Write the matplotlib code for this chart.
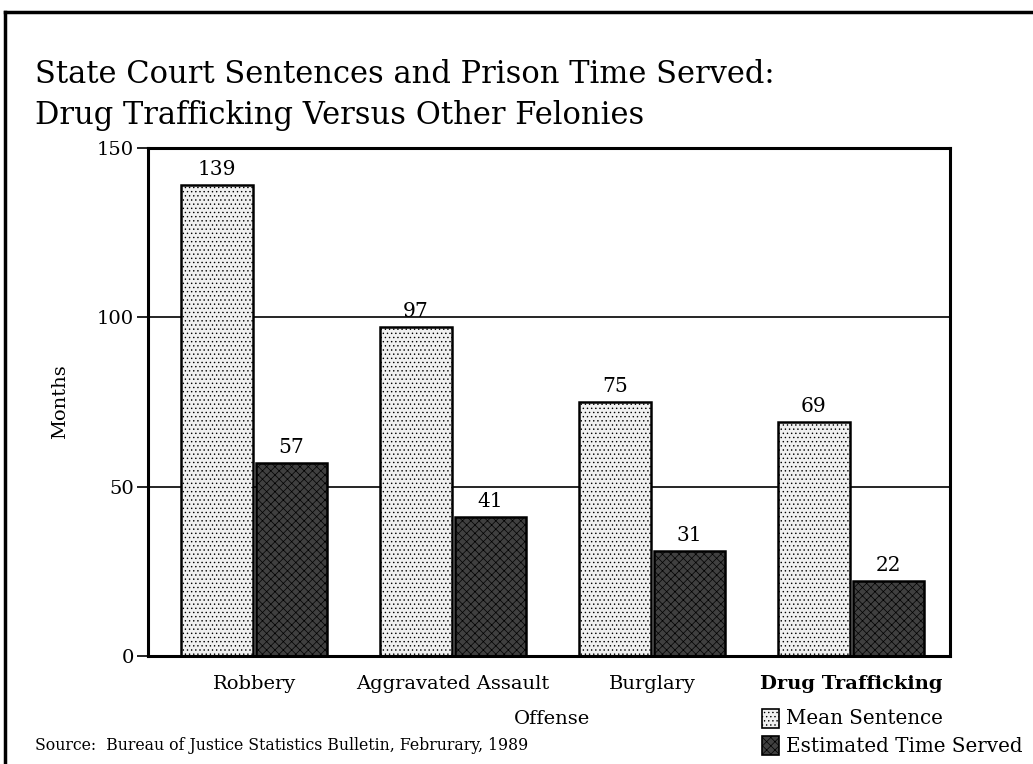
import numpy as np
import matplotlib.pyplot as plt
from matplotlib.patches import Rectangle
from matplotlib.lines import Line2D

# Data (months)
offenses = ["Robbery", "Aggravated Assault", "Burglary", "Drug Trafficking"]
mean_sentence = [139, 97, 75, 69]
time_served = [57, 41, 31, 22]
yticks = [0, 50, 100, 150]

plt.rcParams['font.family'] = ['DejaVu Serif']
plt.rcParams['hatch.linewidth'] = 0.5

fig = plt.figure(figsize=(10.33, 7.64), dpi=100)
W, H = 1033, 764
ax = fig.add_axes([148 / W, 1 - 656 / H, (950 - 148) / W, (656 - 148) / H])

x = np.arange(len(offenses))
w = 0.36
off = 0.1875
b1 = ax.bar(x - off, mean_sentence, w, facecolor="#f0f0f0", edgecolor="black",
            hatch="....", linewidth=1.8)
b2 = ax.bar(x + off, time_served, w, facecolor="#404040", edgecolor="black",
            hatch="xxxx", linewidth=1.8)

for xi, v in zip(x - off, mean_sentence):
    ax.text(xi, v + 1.8, str(v), ha="center", va="bottom", fontsize=14.5)
for xi, v in zip(x + off, time_served):
    ax.text(xi, v + 1.8, str(v), ha="center", va="bottom", fontsize=14.5)

ax.set_xlim(-0.533, 3.497)
ax.set_ylim(0, 150)
ax.set_yticks(yticks)
ax.set_yticklabels([str(t) for t in yticks], fontsize=14)
ax.tick_params(axis="y", length=8, width=1.2, pad=2)
ax.set_xticks(x)
ax.set_xticklabels(offenses, fontsize=14)
ax.tick_params(axis="x", length=0, pad=14)
ax.get_xticklabels()[3].set_fontweight("bold")
for t in yticks[1:3]:
    ax.axhline(t, color="black", linewidth=1.2, zorder=0)
for s in ax.spines.values():
    s.set_linewidth(2.2)

ax.set_ylabel("Months", fontsize=14, labelpad=20)
fig.text(552 / W, 1 - 719 / H, "Offense", ha="center", va="center", fontsize=14)

fig.text(35 / W, 1 - 95 / H, "State Court Sentences and Prison Time Served:\n"
         "Drug Trafficking Versus Other Felonies", ha="left", va="center",
         fontsize=22, linespacing=1.4)

fig.text(35 / W, 1 - 746 / H, "Source:  Bureau of Justice Statistics Bulletin, Februrary, 1989",
         ha="left", va="center", fontsize=11.3)

# legend
fig.patches.append(Rectangle((762 / W, 1 - 728 / H), 17 / W, 19 / H, transform=fig.transFigure,
                             facecolor="#f0f0f0", edgecolor="black", hatch="....", linewidth=1.2))
fig.patches.append(Rectangle((762 / W, 1 - 755 / H), 17 / W, 19 / H, transform=fig.transFigure,
                             facecolor="#404040", edgecolor="black", hatch="xxxx", linewidth=1.2))
fig.text(786 / W, 1 - 719 / H, "Mean Sentence", ha="left", va="center", fontsize=14.3)
fig.text(786 / W, 1 - 746 / H, "Estimated Time Served", ha="left", va="center", fontsize=14.3)

# outer frame (top and left edges)
fig.add_artist(Line2D([5 / W, 1], [1 - 12 / H, 1 - 12 / H], color="black", linewidth=2.5,
                      transform=fig.transFigure))
fig.add_artist(Line2D([5 / W, 5 / W], [1 - 12 / H, 0], color="black", linewidth=2.5,
                      transform=fig.transFigure))

fig.savefig("out.png", dpi=100)
